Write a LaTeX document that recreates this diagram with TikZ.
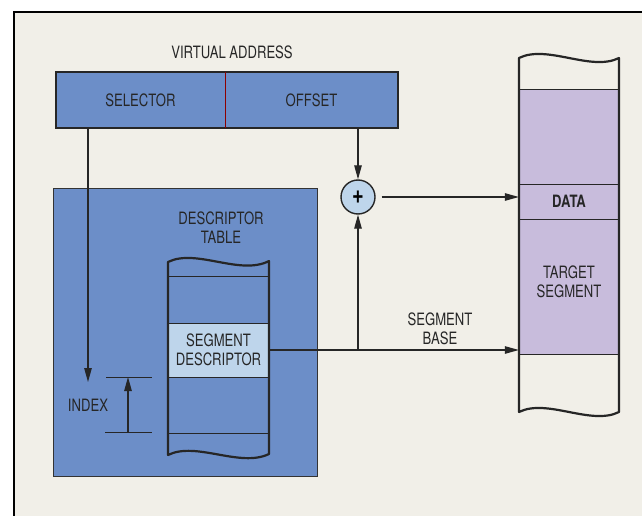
\documentclass[tikz,border=0pt]{standalone}
\usepackage{fontspec}
\setmainfont{TeX Gyre Heros}[FakeStretch=0.77]
\usepackage{xcolor}
\usepackage{tikz}
\usetikzlibrary{arrows.meta, positioning}

\definecolor{paper}{RGB}{241,239,232}
\definecolor{tblue}{RGB}{108,142,200}
\definecolor{lblue}{RGB}{190,213,235}
\definecolor{lilac}{RGB}{200,188,220}

\begin{document}
\begin{tikzpicture}[x=1pt, y=-1pt,
  lbl/.style={font=\fontsize{17}{19}\selectfont, text=black!85, align=center, inner sep=0pt},
  field/.style={rectangle, fill=tblue, minimum height=56pt, lbl},
  cell/.style={rectangle, minimum width=101pt, lbl},
  arrow/.style={-{Triangle[length=14pt,width=7.5pt]}, line width=1.1pt, black!85},
  colwall/.style={line width=2.2pt, line join=round, black!85},
  rowline/.style={line width=1pt, black!85}
]

% --- page and frame ---
\useasboundingbox (0,0) rectangle (642,516);
\clip (0,0) rectangle (642,516);
\fill[white] (0,0) rectangle (642,516);
\draw[line width=1.8pt, fill=paper] (14,12) rectangle (660,540);

% --- virtual address ---
\node[lbl] (vatitle) at (232,52) {VIRTUAL ADDRESS};
\node[field, minimum width=169pt] (selector) at (140.5,100) {SELECTOR};
\node[field, minimum width=173pt] (offset)   at (311.5,100) {OFFSET};
\draw[line width=2.2pt, black!85] (selector.north west) rectangle (offset.south east);
\draw[red!55!black, line width=0.8pt] (selector.north east) -- (selector.south east);

% --- descriptor table ---
\node[rectangle, draw=black!80, line width=0.8pt, fill=tblue,
      minimum width=264pt, minimum height=288pt] (table) at (185,332) {};
\node[lbl] (tabtitle) at (221,228) {DESCRIPTOR\\TABLE};
\node[cell, fill=lblue, minimum height=54pt] (segdesc) at (218.5,350) {SEGMENT\\DESCRIPTOR};
\draw[rowline] (168,276) -- (269,276);
\draw[rowline] (168,323) -- (269,323);
\draw[rowline] (168,377) -- (269,377);
\draw[rowline] (168,433) -- (269,433);
\draw[colwall] (168,455) -- (168,262) .. controls (196,248) and (240,276) .. (269,261)
  -- (269,454) .. controls (240,468) and (196,441) .. (168,455) -- cycle;

% --- index ---
\node[lbl] (index) at (88,405) {INDEX};
\coordinate (idxtop) at (128,377);
\coordinate (idxbot) at (128,432);
\coordinate (idxend) at (88,382);
\draw[rowline] (106,377) -- (152,377);
\draw[rowline] (105,432) -- (152,432);
\draw[arrow] (idxbot) -- (idxtop);

% --- adder ---
\node[circle, draw=black!85, line width=1.4pt, fill=lblue, minimum size=34pt,
      inner sep=0pt, font=\fontsize{26}{26}\selectfont\bfseries] (adder) at (358,197) {+};

% --- target segment ---
\node[cell, fill=lilac, minimum width=100pt, minimum height=264pt] (target) at (569,222) {};
\node[cell, minimum width=100pt, minimum height=35pt,
      font=\fontsize{17}{19}\selectfont\bfseries] (data) at (569,201.5) {DATA};
\node[lbl] (tgtlabel) at (569,282) {TARGET\\SEGMENT};
\draw[rowline] (519,90) -- (619,90);
\draw[rowline] (519,184) -- (619,184);
\draw[rowline] (519,219) -- (619,219);
\draw[rowline] (519,354) -- (619,354);
\draw[colwall] (519,412) -- (519,58) .. controls (547,44) and (591,72) .. (619,58)
  -- (619,412) .. controls (591,426) and (547,398) .. (519,412) -- cycle;

% --- arrows ---
\node[lbl] (baselabel) at (440,329) {SEGMENT\\BASE};
\draw[arrow] (selector.south -| idxend) -- (idxend);
\draw[arrow] (offset.south -| adder) -- (adder.north);
\draw[arrow] (segdesc.east) -- (segdesc.east -| target.west);
\draw[arrow] (segdesc.east -| adder) -- (adder.south);
\draw[arrow] ([xshift=6pt]adder.east) -- (adder.east -| data.west);

\end{tikzpicture}
\end{document}
